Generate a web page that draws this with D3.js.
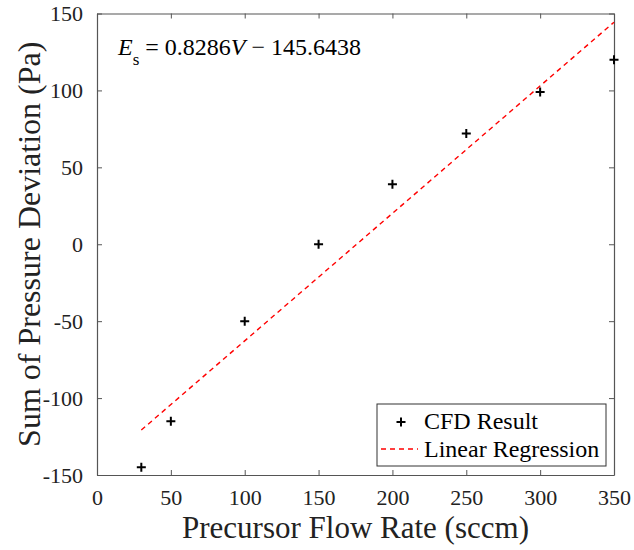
<!DOCTYPE html>
<html>
<head>
<meta charset="utf-8">
<script src="https://cdn.jsdelivr.net/npm/d3@7"></script>
<style>
  html, body { margin: 0; padding: 0; background: #fff; }
  svg { display: block; }
  svg text { font-family: "Liberation Serif", "Times New Roman", serif; }
</style>
</head>
<body>
<svg id="chart" width="634" height="550"></svg>
<script>
// Flow rate (sccm) and summed pressure deviation (Pa) from the CFD runs
const flowRates = [30, 50, 100, 150, 200, 250, 300, 350];
const pressureSums = [-145, -115, -50, 0, 39, 72, 99, 120];

// Fitted regression E_s = slope * V + intercept
const slope = 0.8286;
const intercept = -145.6438;
const fitRange = [30, 350];

const xTicks = [0, 50, 100, 150, 200, 250, 300, 350];
const yTicks = [-150, -100, -50, 0, 50, 100, 150];

const legendLabels = ["CFD Result", "Linear Regression"];

const svg = d3.select("#chart");
const m = { left: 97, right: 614, top: 13.5, bottom: 475 };

const x = d3.scaleLinear().domain([0, 350]).range([m.left, m.right]);
const y = d3.scaleLinear().domain([-150, 150]).range([m.bottom, m.top]);

const axisColor = "#555";
const tickLen = 5;
const serif = "Liberation Serif";

// Axes with inward ticks on all four sides
const gx = svg.append("g").attr("transform", `translate(0,${m.bottom})`)
  .call(d3.axisBottom(x).tickValues(xTicks).tickSizeInner(-tickLen).tickSizeOuter(0).tickPadding(14));
const gxt = svg.append("g").attr("transform", `translate(0,${m.top})`)
  .call(d3.axisTop(x).tickValues(xTicks).tickSizeInner(-tickLen).tickSizeOuter(0).tickFormat(""));
const gy = svg.append("g").attr("transform", `translate(${m.left},0)`)
  .call(d3.axisLeft(y).tickValues(yTicks).tickSizeInner(-tickLen).tickSizeOuter(0).tickPadding(14));
const gyr = svg.append("g").attr("transform", `translate(${m.right},0)`)
  .call(d3.axisRight(y).tickValues(yTicks).tickSizeInner(-tickLen).tickSizeOuter(0).tickFormat(""));

[gx, gxt, gy, gyr].forEach(g => {
  g.attr("font-family", serif).attr("font-size", 22);
  g.select(".domain").attr("stroke", axisColor).attr("stroke-width", 1.2);
  g.selectAll(".tick line").attr("stroke", axisColor).attr("stroke-width", 1);
  g.selectAll(".tick text").attr("fill", "#222");
});
gy.selectAll(".tick text").text(d => d < 0 ? "-" + Math.abs(d) : d);

// Regression line
const fitLine = d3.line().x(d => x(d)).y(d => y(slope * d + intercept));
svg.append("path")
  .datum(fitRange)
  .attr("d", fitLine)
  .attr("fill", "none")
  .attr("stroke", "#ff0000")
  .attr("stroke-width", 1.4)
  .attr("stroke-dasharray", "5,4");

// CFD result markers
const cross = (sel, cx, cy) => {
  sel.append("path")
    .attr("d", `M${cx - 4.5},${cy}H${cx + 4.5}M${cx},${cy - 4.5}V${cy + 4.5}`)
    .attr("stroke", "#000").attr("stroke-width", 2).attr("fill", "none");
};
const pts = svg.append("g");
flowRates.forEach((v, i) => cross(pts, x(v), y(pressureSums[i])));

// Equation annotation
const eq = svg.append("text").attr("x", 118).attr("y", 55)
  .attr("fill", "#000").attr("font-family", serif).attr("font-size", 24);
eq.append("tspan").attr("font-style", "italic").text("E");
eq.append("tspan").attr("dy", 10).attr("font-size", 17).text("s");
eq.append("tspan").attr("dy", -10).text(` = ${slope}`);
eq.append("tspan").attr("font-style", "italic").text("V");
eq.append("tspan").text(` \u2212 ${Math.abs(intercept)}`);

// Legend
const lg = svg.append("g");
lg.append("rect").attr("x", 377).attr("y", 404).attr("width", 229).attr("height", 62)
  .attr("fill", "#fff").attr("stroke", "#333").attr("stroke-width", 1);
cross(lg, 401, 422);
lg.append("line").attr("x1", 381).attr("x2", 418).attr("y1", 449).attr("y2", 449)
  .attr("stroke", "#ff0000").attr("stroke-width", 1.4).attr("stroke-dasharray", "5,4");
lg.selectAll("text.lbl").data(legendLabels).join("text")
  .attr("class", "lbl")
  .attr("x", 424).attr("y", (d, i) => 429 + i * 28)
  .attr("fill", "#000").attr("font-family", serif).attr("font-size", 24)
  .text(d => d);

// Axis titles
svg.append("text")
  .attr("x", (m.left + m.right) / 2).attr("y", 538)
  .attr("text-anchor", "middle").attr("fill", "#222")
  .attr("font-family", serif).attr("font-size", 31)
  .text("Precursor Flow Rate (sccm)");
svg.append("text")
  .attr("transform", `translate(40,${(m.top + m.bottom) / 2}) rotate(-90)`)
  .attr("text-anchor", "middle").attr("fill", "#222")
  .attr("font-family", serif).attr("font-size", 32)
  .text("Sum of Pressure Deviation (Pa)");
</script>
</body>
</html>
